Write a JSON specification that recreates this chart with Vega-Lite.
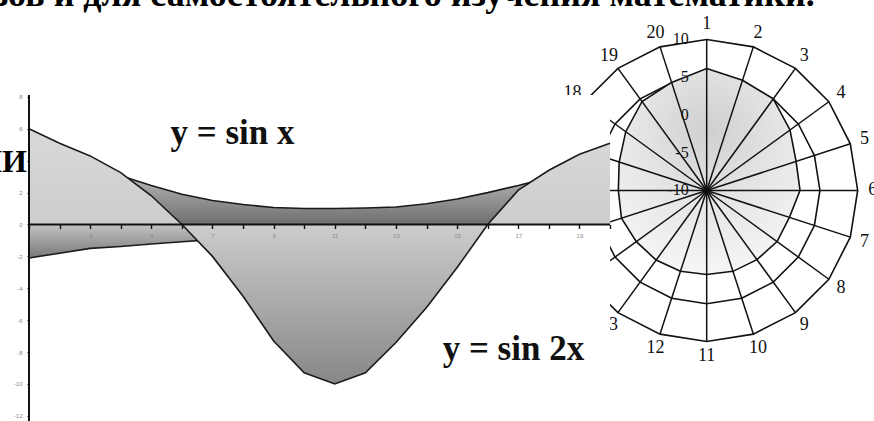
{
  "$schema": "https://vega.github.io/schema/vega-lite/v6.json",
  "width": 874,
  "height": 421,
  "autosize": {"type": "fit", "contains": "padding"},
  "padding": 0,
  "background": "#ffffff",
  "config": {"view": {"stroke": null}, "axis": {"grid": false}},
  "datasets": {
    "sinx": [
      {"k": 1, "y": 6.0}, {"k": 2, "y": 5.1}, {"k": 3, "y": 4.3}, {"k": 4, "y": 3.25},
      {"k": 5, "y": 1.8}, {"k": 6, "y": 0}, {"k": 7, "y": -2.0}, {"k": 8, "y": -4.5},
      {"k": 9, "y": -7.3}, {"k": 10, "y": -9.3}, {"k": 11, "y": -10.0}, {"k": 12, "y": -9.3},
      {"k": 13, "y": -7.4}, {"k": 14, "y": -5.2}, {"k": 15, "y": -2.7}, {"k": 16, "y": 0},
      {"k": 17, "y": 2.15}, {"k": 18, "y": 3.4}, {"k": 19, "y": 4.4}, {"k": 20, "y": 5.1}
    ],
    "darkTop": [
      {"k": 1, "y": 4.5}, {"k": 2, "y": 4.0}, {"k": 3, "y": 3.5}, {"k": 4, "y": 3.05},
      {"k": 5, "y": 2.45}, {"k": 6, "y": 1.9}, {"k": 7, "y": 1.5}, {"k": 8, "y": 1.25},
      {"k": 9, "y": 1.07}, {"k": 10, "y": 1.0}, {"k": 11, "y": 1.0}, {"k": 12, "y": 1.03},
      {"k": 13, "y": 1.1}, {"k": 14, "y": 1.3}, {"k": 15, "y": 1.6}, {"k": 16, "y": 2.0},
      {"k": 17, "y": 2.45}, {"k": 18, "y": 2.95}, {"k": 19, "y": 3.45}, {"k": 20, "y": 3.95}
    ],
    "darkBottom": [
      {"k": 1, "y": -2.1}, {"k": 2, "y": -1.8}, {"k": 3, "y": -1.5}, {"k": 4, "y": -1.38},
      {"k": 5, "y": -1.22}, {"k": 6, "y": -1.08}, {"k": 7, "y": -0.95}
    ],
    "radar": [
      {"cat": 1, "value": 6.16}, {"cat": 2, "value": 5.36}, {"cat": 3, "value": 5.0}, {"cat": 4, "value": 3.64},
      {"cat": 5, "value": 2.45}, {"cat": 6, "value": 2.36}, {"cat": 7, "value": 1.52}, {"cat": 8, "value": 1.52},
      {"cat": 9, "value": 1.32}, {"cat": 10, "value": 1.26}, {"cat": 11, "value": 1.13}, {"cat": 12, "value": 1.26},
      {"cat": 13, "value": 1.39}, {"cat": 14, "value": 1.52}, {"cat": 15, "value": 1.87}, {"cat": 16, "value": 1.7},
      {"cat": 17, "value": 2.19}, {"cat": 18, "value": 3.25}, {"cat": 19, "value": 4.57}, {"cat": 20, "value": 5.05}
    ],
    "grid": [
      {"ring": 10, "cat": 1}, {"ring": 10, "cat": 2}, {"ring": 10, "cat": 3}, {"ring": 10, "cat": 4},
      {"ring": 10, "cat": 5}, {"ring": 10, "cat": 6}, {"ring": 10, "cat": 7}, {"ring": 10, "cat": 8},
      {"ring": 10, "cat": 9}, {"ring": 10, "cat": 10}, {"ring": 10, "cat": 11}, {"ring": 10, "cat": 12},
      {"ring": 10, "cat": 13}, {"ring": 10, "cat": 14}, {"ring": 10, "cat": 15}, {"ring": 10, "cat": 16},
      {"ring": 10, "cat": 17}, {"ring": 10, "cat": 18}, {"ring": 10, "cat": 19}, {"ring": 10, "cat": 20},
      {"ring": 5, "cat": 1}, {"ring": 5, "cat": 2}, {"ring": 5, "cat": 3}, {"ring": 5, "cat": 4},
      {"ring": 5, "cat": 5}, {"ring": 5, "cat": 6}, {"ring": 5, "cat": 7}, {"ring": 5, "cat": 8},
      {"ring": 5, "cat": 9}, {"ring": 5, "cat": 10}, {"ring": 5, "cat": 11}, {"ring": 5, "cat": 12},
      {"ring": 5, "cat": 13}, {"ring": 5, "cat": 14}, {"ring": 5, "cat": 15}, {"ring": 5, "cat": 16},
      {"ring": 5, "cat": 17}, {"ring": 5, "cat": 18}, {"ring": 5, "cat": 19}, {"ring": 5, "cat": 20}
    ],
    "ticks": [{"level": 10}, {"level": 5}, {"level": 0}, {"level": -5}, {"level": -10}]
  },
  "resolve": {"scale": {"x": "independent", "y": "independent"}},
  "layer": [
    {
      "data": {"name": "grid"},
      "transform": [
        {"calculate": "(datum.cat - 1) * PI / 10", "as": "angle"},
        {"calculate": "(datum.ring + 10) * sin(datum.angle)", "as": "px"},
        {"calculate": "(datum.ring + 10) * cos(datum.angle)", "as": "py"}
      ],
      "mark": {"type": "line", "interpolate": "linear-closed", "color": "#111111", "strokeWidth": 1.6, "clip": true},
      "encoding": {
        "x": {"field": "px", "type": "quantitative", "scale": {"domain": [-93.6, 22.16], "nice": false, "zero": false}, "axis": null},
        "y": {"field": "py", "type": "quantitative", "scale": {"domain": [-30.53, 25.23], "nice": false, "zero": false}, "axis": null},
        "detail": {"field": "ring", "type": "nominal"},
        "order": {"field": "cat", "type": "quantitative"}
      }
    },
    {
      "data": {"name": "radar"},
      "transform": [
        {"calculate": "(datum.cat - 1) * PI / 10", "as": "angle"},
        {"calculate": "(datum.value + 10) * sin(datum.angle)", "as": "px"},
        {"calculate": "(datum.value + 10) * cos(datum.angle)", "as": "py"}
      ],
      "mark": {
        "type": "line", "interpolate": "linear-closed", "color": "#111111", "strokeWidth": 1.6, "clip": true,
        "fill": {"gradient": "radial", "x1": 0.5, "y1": 0.3, "r1": 0, "x2": 0.5, "y2": 0.3, "r2": 0.8,
          "stops": [{"offset": 0, "color": "#cfcfcf"}, {"offset": 0.45, "color": "#e6e6e6"}, {"offset": 1, "color": "#fafafa"}]}
      },
      "encoding": {
        "x": {"field": "px", "type": "quantitative", "scale": {"domain": [-93.6, 22.16], "nice": false, "zero": false}, "axis": null},
        "y": {"field": "py", "type": "quantitative", "scale": {"domain": [-30.53, 25.23], "nice": false, "zero": false}, "axis": null},
        "order": {"field": "cat", "type": "quantitative"}
      }
    },
    {
      "data": {"name": "grid"},
      "transform": [
        {"filter": "datum.ring == 10"},
        {"calculate": "(datum.cat - 1) * PI / 10", "as": "angle"},
        {"calculate": "(datum.ring + 10) * sin(datum.angle)", "as": "px"},
        {"calculate": "(datum.ring + 10) * cos(datum.angle)", "as": "py"}
      ],
      "mark": {"type": "rule", "color": "#111111", "strokeWidth": 1.5, "clip": true},
      "encoding": {
        "x": {"field": "px", "type": "quantitative", "scale": {"domain": [-93.6, 22.16], "nice": false, "zero": false}, "axis": null},
        "y": {"field": "py", "type": "quantitative", "scale": {"domain": [-30.53, 25.23], "nice": false, "zero": false}, "axis": null},
        "x2": {"datum": 0},
        "y2": {"datum": 0}
      }
    },
    {
      "data": {"name": "radar"},
      "mark": {"type": "text", "radius": 166, "font": "Liberation Serif", "fontSize": 18, "color": "#111111", "align": "center", "baseline": "middle", "clip": true},
      "encoding": {
        "x": {"datum": 0, "type": "quantitative", "scale": {"domain": [-93.6, 22.16], "nice": false, "zero": false}, "axis": null},
        "y": {"datum": 0, "type": "quantitative", "scale": {"domain": [-30.53, 25.23], "nice": false, "zero": false}, "axis": null},
        "theta": {"field": "cat", "type": "quantitative", "stack": null, "scale": {"domain": [1, 21], "range": [0, 6.283185307], "zero": false}},
        "text": {"field": "cat", "type": "nominal"}
      }
    },
    {
      "data": {"name": "ticks"},
      "mark": {"type": "text", "theta": 0, "dx": -18, "font": "Liberation Serif", "fontSize": 16, "color": "#111111", "align": "right", "baseline": "middle", "clip": true},
      "encoding": {
        "x": {"datum": 0, "type": "quantitative", "scale": {"domain": [-93.6, 22.16], "nice": false, "zero": false}, "axis": null},
        "y": {"datum": 0, "type": "quantitative", "scale": {"domain": [-30.53, 25.23], "nice": false, "zero": false}, "axis": null},
        "radius": {"field": "level", "type": "quantitative", "scale": {"type": "linear", "domain": [-10, 10], "range": [0, 151], "zero": false}},
        "text": {"field": "level", "type": "nominal"}
      }
    },
    {
      "data": {"values": [{"t": "зов и для самостоятельного изучения математики."}]},
      "mark": {"type": "text", "font": "Liberation Serif", "fontWeight": "bold", "fontSize": 36, "align": "left", "baseline": "alphabetic", "color": "#000000", "clip": true},
      "encoding": {
        "x": {"datum": -0.15, "type": "quantitative", "scale": {"domain": [0.0517, 28.632], "nice": false, "zero": false}, "axis": null},
        "y": {"datum": 13.72, "type": "quantitative", "scale": {"domain": [-12.32, 14.075], "nice": false, "zero": false}, "axis": null},
        "text": {"field": "t", "type": "nominal"}
      }
    },
    {
      "data": {"values": [{"t": "НИ"}]},
      "mark": {"type": "text", "font": "Liberation Serif", "fontWeight": "bold", "fontSize": 32, "align": "right", "baseline": "alphabetic", "color": "#000000", "clip": true},
      "encoding": {
        "x": {"datum": 0.93, "type": "quantitative", "scale": {"domain": [0.0517, 28.632], "nice": false, "zero": false}, "axis": null},
        "y": {"datum": 3.3, "type": "quantitative", "scale": {"domain": [-12.32, 14.075], "nice": false, "zero": false}, "axis": null},
        "text": {"field": "t", "type": "nominal"}
      }
    },
    {
      "data": {"values": [{}]},
      "mark": {"type": "rect", "fill": "#ffffff", "clip": true},
      "encoding": {
        "x": {"datum": 1, "type": "quantitative", "scale": {"domain": [0.0517, 28.632], "nice": false, "zero": false}, "axis": null},
        "x2": {"datum": 20},
        "y": {"datum": -12.6, "type": "quantitative", "scale": {"domain": [-12.32, 14.075], "nice": false, "zero": false}, "axis": null},
        "y2": {"datum": 8.12}
      }
    },
    {
      "data": {"name": "darkTop"},
      "mark": {"type": "area", "interpolate": "linear", "clip": true,
        "fill": {"gradient": "linear", "x1": 0, "y1": 0, "x2": 0, "y2": 1,
          "stops": [{"offset": 0, "color": "#c8c8c8"}, {"offset": 0.4, "color": "#adadad"}, {"offset": 1, "color": "#6e6e6e"}]}},
      "encoding": {
        "x": {"field": "k", "type": "quantitative", "scale": {"domain": [0.0517, 28.632], "nice": false, "zero": false}, "axis": null},
        "y": {"field": "y", "type": "quantitative", "scale": {"domain": [-12.32, 14.075], "nice": false, "zero": false}, "axis": null}
      }
    },
    {
      "data": {"name": "darkTop"},
      "mark": {"type": "line", "interpolate": "linear", "color": "#1a1a1a", "strokeWidth": 1.6, "clip": true},
      "encoding": {
        "x": {"field": "k", "type": "quantitative", "scale": {"domain": [0.0517, 28.632], "nice": false, "zero": false}, "axis": null},
        "y": {"field": "y", "type": "quantitative", "scale": {"domain": [-12.32, 14.075], "nice": false, "zero": false}, "axis": null}
      }
    },
    {
      "data": {"name": "darkBottom"},
      "mark": {"type": "area", "interpolate": "linear", "clip": true,
        "fill": {"gradient": "linear", "x1": 0, "y1": 0, "x2": 0, "y2": 1,
          "stops": [{"offset": 0, "color": "#c2c2c2"}, {"offset": 1, "color": "#797979"}]}},
      "encoding": {
        "x": {"field": "k", "type": "quantitative", "scale": {"domain": [0.0517, 28.632], "nice": false, "zero": false}, "axis": null},
        "y": {"field": "y", "type": "quantitative", "scale": {"domain": [-12.32, 14.075], "nice": false, "zero": false}, "axis": null}
      }
    },
    {
      "data": {"name": "darkBottom"},
      "mark": {"type": "line", "interpolate": "linear", "color": "#1a1a1a", "strokeWidth": 1.6, "clip": true},
      "encoding": {
        "x": {"field": "k", "type": "quantitative", "scale": {"domain": [0.0517, 28.632], "nice": false, "zero": false}, "axis": null},
        "y": {"field": "y", "type": "quantitative", "scale": {"domain": [-12.32, 14.075], "nice": false, "zero": false}, "axis": null}
      }
    },
    {
      "data": {"name": "sinx"},
      "mark": {"type": "area", "interpolate": "linear", "clip": true,
        "fill": {"gradient": "linear", "x1": 0, "y1": 0, "x2": 0, "y2": 1,
          "stops": [{"offset": 0, "color": "#d9d9d9"}, {"offset": 0.37, "color": "#cdcdcd"}, {"offset": 1, "color": "#878787"}]}},
      "encoding": {
        "x": {"field": "k", "type": "quantitative", "scale": {"domain": [0.0517, 28.632], "nice": false, "zero": false}, "axis": null},
        "y": {"field": "y", "type": "quantitative", "scale": {"domain": [-12.32, 14.075], "nice": false, "zero": false}, "axis": null}
      }
    },
    {
      "data": {"name": "sinx"},
      "mark": {"type": "line", "interpolate": "linear", "color": "#1a1a1a", "strokeWidth": 1.6, "clip": true},
      "encoding": {
        "x": {"field": "k", "type": "quantitative", "scale": {"domain": [0.0517, 28.632], "nice": false, "zero": false}, "axis": null},
        "y": {"field": "y", "type": "quantitative", "scale": {"domain": [-12.32, 14.075], "nice": false, "zero": false}, "axis": null}
      }
    },
    {
      "data": {"values": [{}]},
      "mark": {"type": "rule", "color": "#111111", "strokeWidth": 2, "clip": true},
      "encoding": {
        "x": {"datum": 1, "type": "quantitative", "scale": {"domain": [0.0517, 28.632], "nice": false, "zero": false}, "axis": null},
        "y": {"datum": -12.6, "type": "quantitative", "scale": {"domain": [-12.32, 14.075], "nice": false, "zero": false}, "axis": null},
        "y2": {"datum": 8.12}
      }
    },
    {
      "data": {"values": [{}]},
      "mark": {"type": "rule", "color": "#111111", "strokeWidth": 2, "clip": true},
      "encoding": {
        "x": {"datum": 1, "type": "quantitative", "scale": {"domain": [0.0517, 28.632], "nice": false, "zero": false}, "axis": null},
        "x2": {"datum": 20},
        "y": {"datum": 0, "type": "quantitative", "scale": {"domain": [-12.32, 14.075], "nice": false, "zero": false}, "axis": null}
      }
    },
    {
      "data": {"name": "sinx"},
      "mark": {"type": "tick", "opacity": 0},
      "encoding": {
        "x": {"field": "k", "type": "quantitative", "scale": {"domain": [0.0517, 28.632], "nice": false, "zero": false},
          "axis": {"orient": "bottom", "offset": -196.5, "values": [1, 2, 3, 4, 5, 6, 7, 8, 9, 10, 11, 12, 13, 14, 15, 16, 17, 18, 19, 20],
            "labelExpr": "datum.value % 2 == 1 && datum.value > 1 ? '' + datum.value : ''",
            "domain": false, "tickSize": 4, "tickColor": "#111111", "tickWidth": 1.4, "labelFont": "Liberation Sans",
            "labelFontSize": 6, "labelColor": "#8a8a8a", "labelPadding": 4, "labelFlush": false, "labelOverlap": false, "title": null, "zindex": 1}},
        "y": {"field": "y", "type": "quantitative", "scale": {"domain": [-12.32, 14.075], "nice": false, "zero": false},
          "axis": {"orient": "left", "offset": -29, "values": [-12, -10, -8, -6, -4, -2, 0, 2, 4, 6, 8],
            "labelExpr": "datum.value == 4 ? '' : '' + datum.value",
            "domain": false, "tickSize": 2, "tickColor": "#111111", "tickWidth": 1, "labelFont": "Liberation Sans",
            "labelFontSize": 6, "labelColor": "#8a8a8a", "labelPadding": 5, "labelFlush": false, "labelOverlap": false, "title": null, "zindex": 1}}
      }
    },
    {
      "data": {"values": [{"t": "y = sin x"}]},
      "mark": {"type": "text", "font": "Liberation Serif", "fontWeight": "bold", "fontSize": 35, "align": "center", "baseline": "alphabetic", "color": "#111111", "clip": true},
      "encoding": {
        "x": {"datum": 7.655, "type": "quantitative", "scale": {"domain": [0.0517, 28.632], "nice": false, "zero": false}, "axis": null},
        "y": {"datum": 5.05, "type": "quantitative", "scale": {"domain": [-12.32, 14.075], "nice": false, "zero": false}, "axis": null},
        "text": {"field": "t", "type": "nominal"}
      }
    },
    {
      "data": {"values": [{"t": "y = sin 2x"}]},
      "mark": {"type": "text", "font": "Liberation Serif", "fontWeight": "bold", "fontSize": 35, "align": "center", "baseline": "alphabetic", "color": "#111111", "clip": true},
      "encoding": {
        "x": {"datum": 16.84, "type": "quantitative", "scale": {"domain": [0.0517, 28.632], "nice": false, "zero": false}, "axis": null},
        "y": {"datum": -8.5, "type": "quantitative", "scale": {"domain": [-12.32, 14.075], "nice": false, "zero": false}, "axis": null},
        "text": {"field": "t", "type": "nominal"}
      }
    }
  ]
}
